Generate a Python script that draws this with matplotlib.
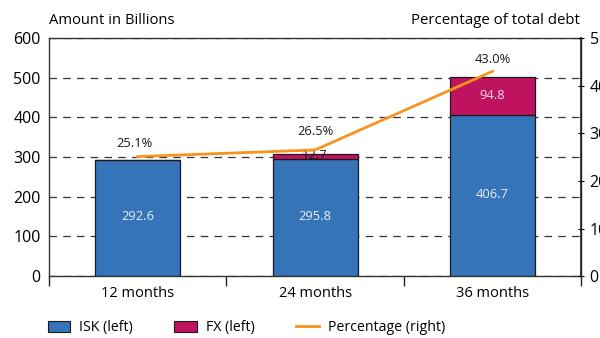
import matplotlib
matplotlib.use("Agg")
import matplotlib.pyplot as plt
from matplotlib.lines import Line2D
from matplotlib.patches import Patch

plt.rcParams['font.family'] = ['Open Sans', 'DejaVu Sans']

categories = ["12 months", "24 months", "36 months"]
isk = [292.6, 295.8, 406.7]
fx = [0.0, 12.7, 94.8]
pct = [25.1, 26.5, 43.0]

c_isk = "#3674b9"
c_fx = "#bf1360"
c_pct = "#f7941d"

fig = plt.figure(figsize=(6.0, 3.38), dpi=100)
ax = fig.add_axes([0.0817, 0.183, 0.887, 0.7046])
ax2 = ax.twinx()

x = list(range(len(categories)))
w = 0.48
ax.bar(x, isk, width=w, color=c_isk, edgecolor="#1a1a1a", linewidth=0.9, zorder=2)
ax.bar(x, fx, width=w, bottom=isk, color=c_fx, edgecolor="#1a1a1a", linewidth=0.9, zorder=2)

for i in x:
    ax.text(i, isk[i] / 2 + 3, f"{isk[i]:.1f}", ha="center", va="center",
            color="#e8eef8", fontsize=9.3, zorder=4)
    if fx[i] > 40:
        ax.text(i, isk[i] + fx[i] / 2, f"{fx[i]:.1f}", ha="center", va="center",
                color="#f5dde8", fontsize=9.3, zorder=4)
    elif fx[i] > 0:
        ax.text(i, isk[i] + fx[i] - 4, f"{fx[i]:.1f}", ha="center", va="center",
                color="#1a1a1a", fontsize=9.3, zorder=6)

ax.set_xlim(-0.5, 2.5)
ax.set_ylim(0, 600)
ax.set_yticks(range(0, 601, 100))
ax.yaxis.grid(True, linestyle=(0, (6, 5)), color="#333333", linewidth=0.9)
ax.set_axisbelow(True)
ax.set_xticks(x)
ax.set_xticklabels(categories, fontsize=10.5)
ax.tick_params(axis="x", length=0, pad=7)
ax.set_xticks([-0.5, 0.5, 1.5, 2.5], minor=True)
ax.tick_params(axis="x", which="minor", length=7, width=1, color="#222222")
ax.tick_params(axis="y", labelsize=11.5, length=0, pad=6)
for s in ax.spines.values():
    s.set_color("#333333")
    s.set_linewidth(1.0)

ax2.set_ylim(0, 50)
ax2.set_yticks(range(0, 51, 10))
ax2.tick_params(axis="y", labelsize=11.5, length=4, pad=4, direction="inout")
ax2.plot(x, pct, color=c_pct, linewidth=2.0, zorder=5)
ax2.set_zorder(ax.get_zorder() + 1)
ax2.patch.set_visible(False)
for s in ax2.spines.values():
    s.set_visible(False)
ax2.spines["right"].set_visible(True)
ax2.spines["right"].set_color("#222222")
ax2.spines["right"].set_linewidth(1.2)

offs = [1.4, 2.6, 1.2]
for i in x:
    ax2.text(i - 0.02 if i == 0 else i, pct[i] + offs[i], f"{pct[i]:.1f}%",
             ha="center", va="bottom", fontsize=9.3, color="#1a1a1a")

fig.text(0.0817, 0.94, "Amount in Billions", fontsize=10.6, ha="left", va="center")
fig.text(0.967, 0.94, "Percentage of total debt", fontsize=10.8, ha="right", va="center")

handles = [Patch(facecolor=c_isk, edgecolor="#1a1a1a", linewidth=0.8),
           Patch(facecolor=c_fx, edgecolor="#1a1a1a", linewidth=0.8),
           Line2D([0], [0], color=c_pct, linewidth=2)]
fig.legend(handles, ["ISK (left)", "FX (left)", "Percentage (right)"],
           loc="center left", bbox_to_anchor=(0.058, 0.03), ncol=3, frameon=False,
           fontsize=10.2, handlelength=1.6, handleheight=0.8, columnspacing=2.9,
           handletextpad=0.65)

fig.savefig("out.png", dpi=100)
